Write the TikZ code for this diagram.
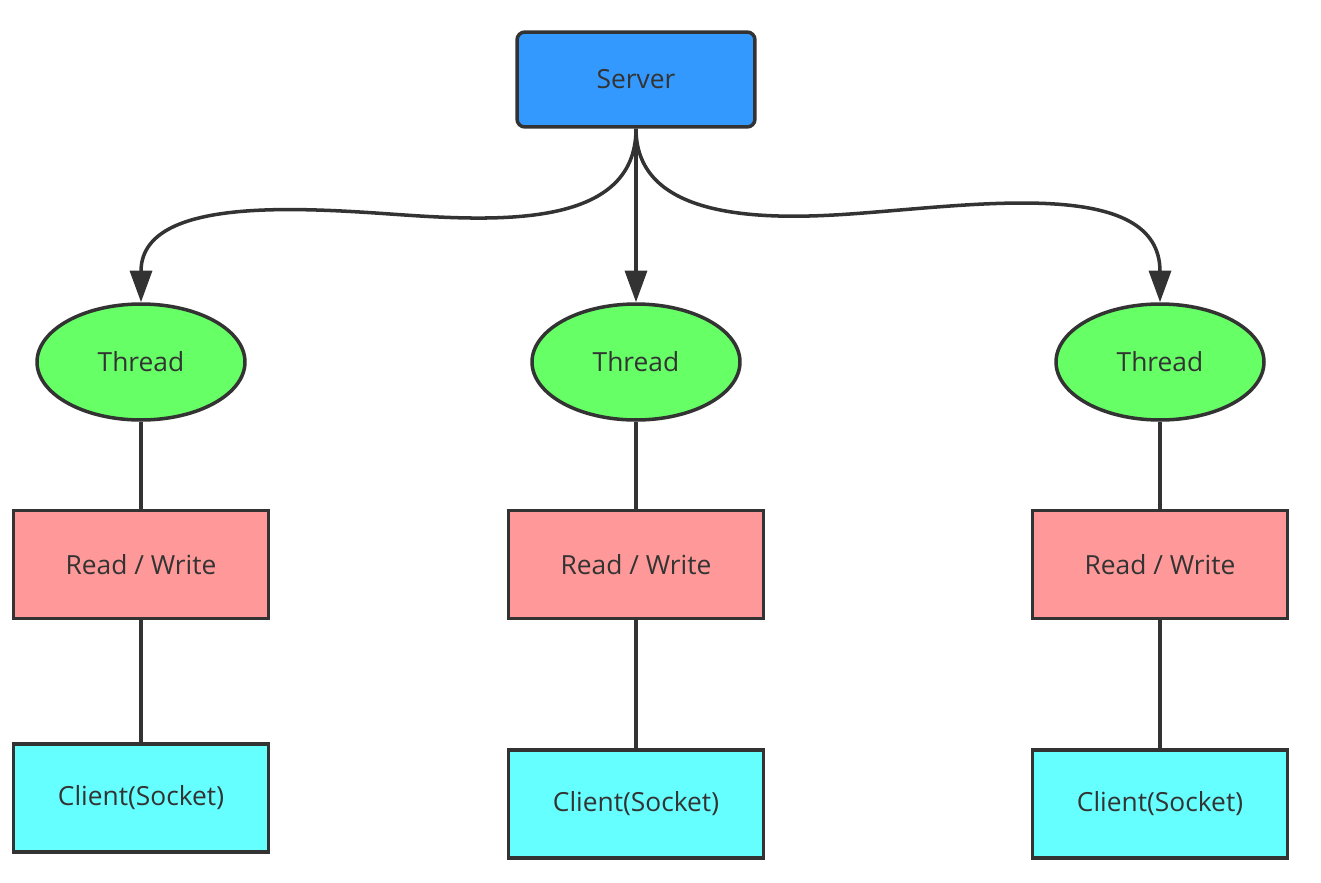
\documentclass[tikz,border=0pt]{standalone}
\usepackage{fontspec}
\setmainfont{Open Sans}
\usetikzlibrary{shapes,arrows.meta}

\definecolor{serverblue}{HTML}{3399FF}
\definecolor{threadgreen}{HTML}{66FF66}
\definecolor{rwpink}{HTML}{FF9999}
\definecolor{clientcyan}{HTML}{66FFFF}
\definecolor{edgegray}{HTML}{333333}

\tikzset{
  box/.style={draw=edgegray, line width=2pt, text=edgegray, inner sep=0pt, font=\fontsize{15}{18}\selectfont},
  servernode/.style={box, rectangle, rounded corners=4.5pt, fill=serverblue, minimum width=4.76cm, minimum height=1.9cm},
  threadnode/.style={box, ellipse, fill=threadgreen, minimum width=4.16cm, minimum height=2.32cm},
  rwnode/.style={box, rectangle, fill=rwpink, minimum width=5.1cm, minimum height=2.16cm},
  clientnode/.style={box, rectangle, fill=clientcyan, minimum width=5.1cm, minimum height=2.16cm},
  link/.style={draw=edgegray, line width=2pt},
  arrowlink/.style={link, -{Triangle[length=18pt, width=12.5pt]}}
}

\begin{document}
\begin{tikzpicture}[x=0.02cm, y=-0.02cm]

  \useasboundingbox (0,0) rectangle (1321,882);

  \node[servernode] (server) at (636,79.5) {Server};

  \node[threadnode] (threadA) at (141,362) {Thread};
  \node[threadnode] (threadB) at (636,362) {Thread};
  \node[threadnode] (threadC) at (1160,362) {Thread};

  \node[rwnode] (rwA) at (141,564.5) {Read / Write};
  \node[rwnode] (rwB) at (636,564.5) {Read / Write};
  \node[rwnode] (rwC) at (1160,564.5) {Read / Write};

  \node[clientnode] (clientA) at (141,798) {Client(Socket)};
  \node[clientnode] (clientB) at (636,804) {Client(Socket)};
  \node[clientnode] (clientC) at (1160,804) {Client(Socket)};

  \coordinate (bendA) at (390,214);
  \coordinate (bendC) at (850,214);

  \draw[arrowlink] (server.south) to[out=-90, in=-4] (bendA) to[out=176, in=90] (threadA.north);
  \draw[arrowlink] (server.south) -- (threadB.north);
  \draw[arrowlink] (server.south) to[out=-90, in=184] (bendC) to[out=4, in=90] (threadC.north);

  \draw[link] (threadA.south) -- (rwA.north);
  \draw[link] (threadB.south) -- (rwB.north);
  \draw[link] (threadC.south) -- (rwC.north);

  \draw[link] (rwA.south) -- (clientA.north);
  \draw[link] (rwB.south) -- (clientB.north);
  \draw[link] (rwC.south) -- (clientC.north);

\end{tikzpicture}
\end{document}
